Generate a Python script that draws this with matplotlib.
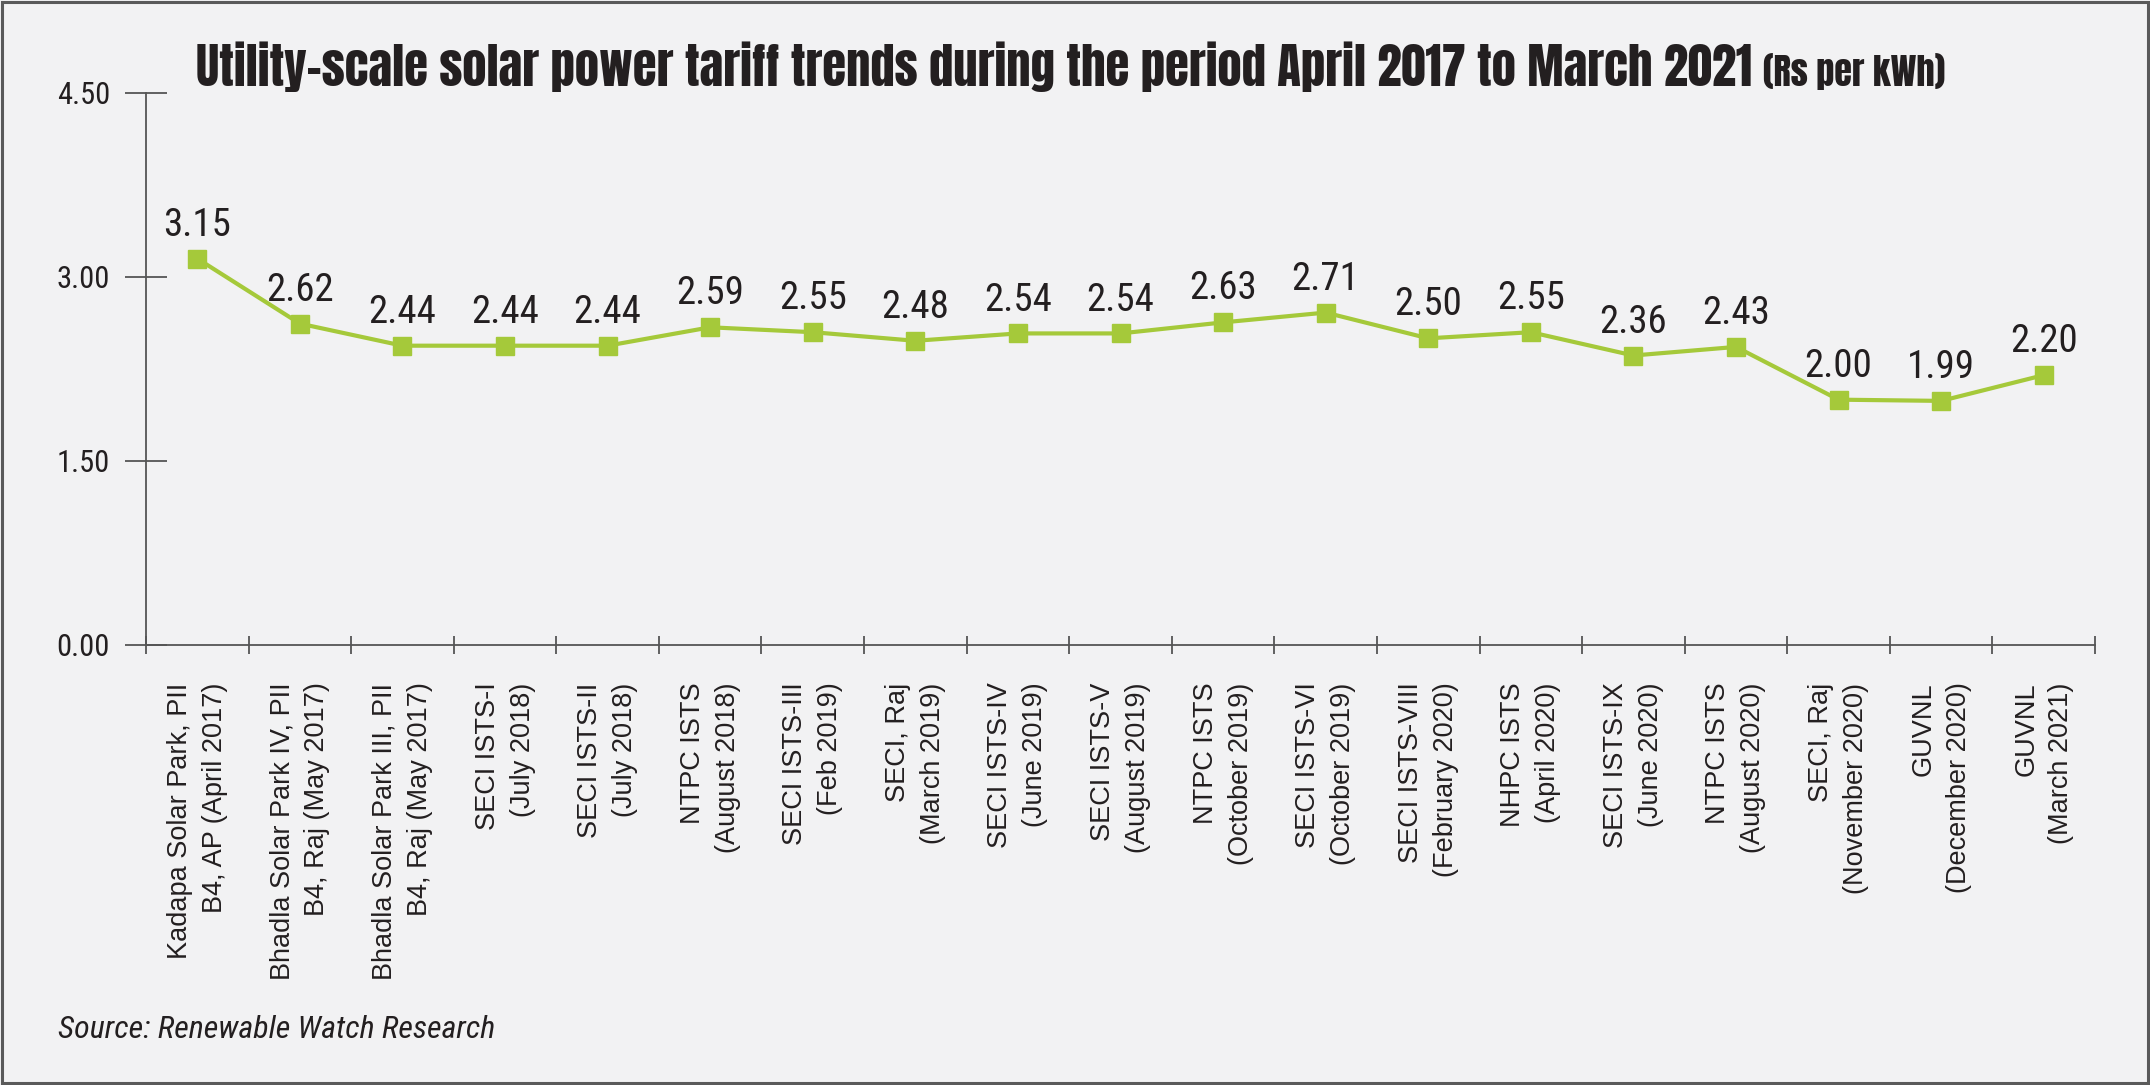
import matplotlib
matplotlib.use("Agg")
import matplotlib.pyplot as plt
from matplotlib.patches import Rectangle

# Data
projects = [
    "Kadapa Solar Park, PII\nB4, AP (April 2017)",
    "Bhadla Solar Park IV, PII\nB4, Raj (May 2017)",
    "Bhadla Solar Park III, PII\nB4, Raj (May 2017)",
    "SECI ISTS-I\n(July 2018)",
    "SECI ISTS-II\n(July 2018)",
    "NTPC ISTS\n(August 2018)",
    "SECI ISTS-III\n(Feb 2019)",
    "SECI, Raj\n(March 2019)",
    "SECI ISTS-IV\n(June 2019)",
    "SECI ISTS-V\n(August 2019)",
    "NTPC ISTS\n(October 2019)",
    "SECI ISTS-VI\n(October 2019)",
    "SECI ISTS-VIII\n(February 2020)",
    "NHPC ISTS\n(April 2020)",
    "SECI ISTS-IX\n(June 2020)",
    "NTPC ISTS\n(August 2020)",
    "SECI, Raj\n(November 2020)",
    "GUVNL\n(December 2020)",
    "GUVNL\n(March 2021)",
]
tariffs = [3.15, 2.62, 2.44, 2.44, 2.44, 2.59, 2.55, 2.48, 2.54, 2.54,
           2.63, 2.71, 2.50, 2.55, 2.36, 2.43, 2.00, 1.99, 2.20]
y_ticks = [0.0, 1.5, 3.0, 4.5]

BG = "#f2f2f3"
GREEN = "#a5c93a"
INK = "#231f20"
AXC = "#555555"
NARROW = ["Roboto Condensed", "Archivo Narrow", "DejaVu Sans"]
SANS = ["Liberation Sans", "Arimo", "DejaVu Sans"]
HEAVY = ["Anton", "Oswald", "DejaVu Sans"]

fig = plt.figure(figsize=(21.5, 10.85), dpi=100, facecolor=BG)
ax = fig.add_axes([146 / 2150, 1 - 645 / 1085, (2095 - 146) / 2150, (645 - 93) / 1085])
ax.set_facecolor(BG)

x = list(range(len(tariffs)))
ax.plot(x, tariffs, color=GREEN, lw=3, marker="s", ms=13, mec=GREEN, mfc=GREEN,
        zorder=3, clip_on=False)

for xi, v in zip(x, tariffs):
    ax.annotate(f"{v:.2f}", (xi, v), xytext=(0, 16.5), textcoords="offset points",
                ha="center", va="baseline", fontsize=28, family=NARROW, color=INK)

ax.set_xlim(-0.5, len(tariffs) - 0.5)
ax.set_ylim(0, 4.5)

for s in ["top", "right"]:
    ax.spines[s].set_visible(False)
for s in ["left", "bottom"]:
    ax.spines[s].set_color(AXC)
    ax.spines[s].set_linewidth(1.3)

ax.set_yticks(y_ticks)
ax.set_yticklabels([f"{t:.2f}" for t in y_ticks], fontsize=22, family=NARROW, color=INK)
ax.tick_params(axis="y", direction="inout", length=30, width=1.3, color=AXC, pad=11)

ax.set_xticks(x)
ax.set_xticklabels(projects, rotation=90, fontsize=19.5, family=SANS, color=INK,
                   ha="center", va="top", multialignment="right", linespacing=1.45)
ax.tick_params(axis="x", which="major", length=0, pad=27)
ax.set_xticks([i - 0.5 for i in range(len(tariffs) + 1)], minor=True)
ax.tick_params(axis="x", which="minor", direction="inout", length=13, width=1.3, color=AXC)

# title in two parts
t1 = fig.text(196 / 2150, 1 - 86 / 1085,
              "Utility-scale solar power tariff trends during the period April 2017 to March 2021",
              fontsize=35, family=HEAVY, color=INK, ha="left", va="baseline")
fig.canvas.draw()
bb = t1.get_window_extent()
fig.text(bb.x1 / 2150 + 0.005, 1 - 86 / 1085, "(Rs per kWh)", fontsize=26,
         family=HEAVY, color=INK, ha="left", va="baseline")

fig.text(58 / 2150, 1 - 1038 / 1085, "Source: Renewable Watch Research",
         fontsize=23, style="italic", family=NARROW, color=INK, ha="left", va="baseline")

fig.patches.append(Rectangle((0.0008, 0.0015), 0.9984, 0.997, transform=fig.transFigure,
                             fill=False, edgecolor="#5a5a5a", lw=2.2))

fig.savefig("out.png", dpi=100, facecolor=BG)
